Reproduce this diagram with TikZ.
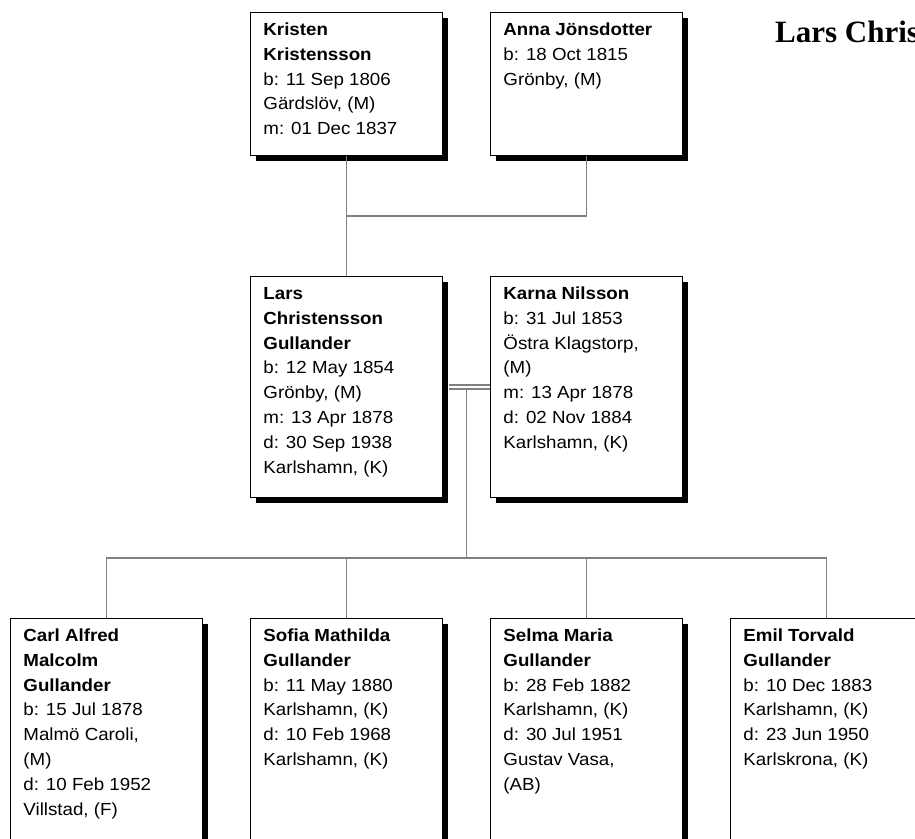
\documentclass[tikz,border=0pt]{standalone}
\usepackage{fontspec}
\setmainfont{Liberation Sans}[FakeStretch=1.07]
\newfontfamily\titlefont{Liberation Serif}
\usetikzlibrary{shadows,calc}
\definecolor{connc}{RGB}{128,128,128}
\tikzset{
  person/.style={draw=black, line width=0.9pt, fill=white, anchor=north west,
    inner xsep=13pt, inner ysep=0pt, minimum width=192pt,
    general shadow={fill=black, shadow xshift=6pt, shadow yshift=-6pt}},
  connector/.style={draw=connc, line width=1.5pt},
  marriage/.style={draw=connc, line width=1.3pt, double=white, double distance=2.7pt},
  titletext/.style={anchor=base west, inner sep=0pt, font=\titlefont\bfseries\fontsize{31}{36}\selectfont}
}
\newcommand{\pcard}[2]{\parbox[c][#1][t]{166pt}{\fontsize{17.5}{24.8}\selectfont\raggedright\rule{0pt}{23pt}#2}}
\begin{document}
\begin{tikzpicture}[x=1pt,y=-1pt]
\useasboundingbox (0,0) rectangle (915,838);
\clip (0,0) rectangle (915,838);
\fill[white] (0,0) rectangle (915,838);

\node[titletext] (title) at (775,42) {Lars Chris};

% generation 1
\node[person] (kk) at (250,12) {\pcard{143pt}{\textbf{Kristen}\\\textbf{Kristensson}\\b: 11 Sep 1806\\Gärdslöv, (M)\\m: 01 Dec 1837}};
\node[person] (anna) at (490,12) {\pcard{143pt}{\textbf{Anna Jönsdotter}\\b: 18 Oct 1815\\Grönby, (M)}};

% generation 2
\node[person] (lars) at (250,276) {\pcard{221pt}{\textbf{Lars}\\\textbf{Christensson}\\\textbf{Gullander}\\b: 12 May 1854\\Grönby, (M)\\m: 13 Apr 1878\\d: 30 Sep 1938\\Karlshamn, (K)}};
\node[person] (karna) at (490,276) {\pcard{221pt}{\textbf{Karna Nilsson}\\b: 31 Jul 1853\\Östra Klagstorp,\\(M)\\m: 13 Apr 1878\\d: 02 Nov 1884\\Karlshamn, (K)}};

% generation 3
\node[person] (c1) at (10,618) {\pcard{232pt}{\textbf{Carl Alfred}\\\textbf{Malcolm}\\\textbf{Gullander}\\b: 15 Jul 1878\\Malmö Caroli,\\(M)\\d: 10 Feb 1952\\Villstad, (F)}};
\node[person] (c2) at (250,618) {\pcard{232pt}{\textbf{Sofia Mathilda}\\\textbf{Gullander}\\b: 11 May 1880\\Karlshamn, (K)\\d: 10 Feb 1968\\Karlshamn, (K)}};
\node[person] (c3) at (490,618) {\pcard{232pt}{\textbf{Selma Maria}\\\textbf{Gullander}\\b: 28 Feb 1882\\Karlshamn, (K)\\d: 30 Jul 1951\\Gustav Vasa,\\(AB)}};
\node[person] (c4) at (730,618) {\pcard{232pt}{\textbf{Emil Torvald}\\\textbf{Gullander}\\b: 10 Dec 1883\\Karlshamn, (K)\\d: 23 Jun 1950\\Karlskrona, (K)}};

% connectors
\coordinate (pj) at (kk.south |- 0,216);
\draw[connector] (kk.south) -- (lars.north);
\draw[connector] (anna.south) |- (pj);

\coordinate (mid) at ($(lars.east)!0.5!(karna.west)$);
\draw[marriage] ($(lars.east)+(6,0)$) -- (karna.west);
\coordinate (fam) at (mid |- 0,558);
\draw[connector] ($(mid)+(0,1.5)$) -- (fam);
\draw[connector] (c1.north) |- (fam) -| (c4.north);
\draw[connector] (c2.north) -- (c2.north |- fam);
\draw[connector] (c3.north) -- (c3.north |- fam);
\end{tikzpicture}
\end{document}
